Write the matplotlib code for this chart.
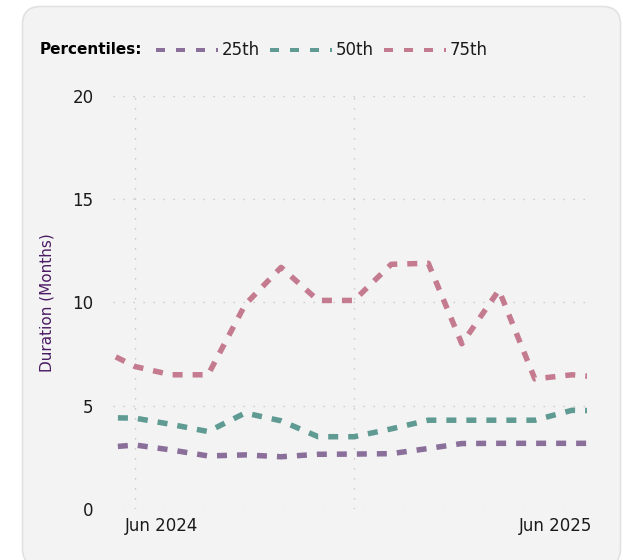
import matplotlib
matplotlib.use("Agg")
import matplotlib.pyplot as plt
import matplotlib.transforms as mtransforms
from matplotlib.patches import FancyBboxPatch
import datetime as dt

# Monthly duration percentiles (months)
months = ["2024-05", "2024-06", "2024-07", "2024-08", "2024-09", "2024-10",
          "2024-11", "2024-12", "2025-01", "2025-02", "2025-03", "2025-04",
          "2025-05", "2025-06", "2025-07"]
p25 = [2.95, 3.10, 2.86, 2.57, 2.62, 2.53, 2.65, 2.66, 2.68, 2.93, 3.17, 3.18, 3.18, 3.18, 3.18]
p50 = [4.43, 4.40, 4.10, 3.75, 4.65, 4.27, 3.50, 3.50, 3.88, 4.30, 4.30, 4.30, 4.30, 4.78, 4.75]
p75 = [7.80, 6.90, 6.50, 6.50, 9.90, 11.70, 10.10, 10.10, 11.85, 11.90, 8.00, 10.60, 6.30, 6.50, 6.35]

series_names = ["25th", "50th", "75th"]
series_colors = ["#8b6f9b", "#5f9b93", "#c57b8f"]
tick_labels = ["Jun 2024", "", "Jun 2025"]
y_ticks = [0, 5, 10, 15, 20]

dates = [dt.datetime.strptime(m, "%Y-%m") for m in months]
x_start = dt.datetime(2024, 5, 13, 14)
x_end = dt.datetime(2025, 6, 13, 14)
tick_dates = [dt.datetime(2024, 6, 1), dt.datetime(2024, 12, 1), dt.datetime(2025, 6, 1)]

W, H = 623, 560
fig = plt.figure(figsize=(W / 100, H / 100), dpi=100, facecolor="white")

# Card background in pixel coordinates
bg = fig.add_axes([0, 0, 1, 1], zorder=-1)
bg.set_xlim(0, W)
bg.set_ylim(H, 0)
bg.axis("off")
bg.add_patch(FancyBboxPatch((22.5, 6.5), 598, 560, boxstyle="round,pad=0,rounding_size=18",
                            fc="#f3f3f3", ec="#e2e2e2", lw=1.2))

ax = fig.add_axes([113 / W, 51 / H, 474 / W, 413 / H])
ax.set_facecolor("none")

lw_px = 5.5
lw_pt = lw_px * 0.72
for vals, col in zip([p25, p50, p75], series_colors):
    ax.plot(dates, vals, color=col, lw=lw_pt, dashes=(10 / lw_px, 10 / lw_px),
            solid_capstyle="butt", dash_capstyle="butt", zorder=3)

ax.set_xlim(x_start, x_end)
ax.set_ylim(0, 20)
ax.set_yticks(y_ticks)
ax.set_xticks(tick_dates)
ax.set_xticklabels(tick_labels)

for s in ax.spines.values():
    s.set_visible(False)

grid_kw = dict(color="#c6c6c6", lw=1.0, dashes=(1, 6.2))
ax.grid(True, axis="both", **grid_kw)
ax.get_xgridlines()[2].set_visible(False)

ax.tick_params(axis="both", length=0, labelsize=12, labelcolor="#1a1a1a")
ax.tick_params(axis="x", pad=6)
ax.tick_params(axis="y", pad=14)

# Shift the date labels horizontally
offsets = [27, 0, -16]
for lab, dx in zip(ax.get_xticklabels(), offsets):
    lab.set_transform(lab.get_transform() + mtransforms.ScaledTranslation(dx / 100, 0, fig.dpi_scale_trans))

ax.set_ylabel("Duration (Months)", color="#4b1b63", fontsize=11, labelpad=13)

# Legend row
ly = 50
bg.text(40, ly, "Percentiles:", fontsize=11, fontweight="bold", color="black",
        va="center", ha="left")
leg_x = [156, 270, 384]
for x0, name, col in zip(leg_x, series_names, series_colors):
    bg.plot([x0, x0 + 62], [ly, ly], color=col, lw=4 * 0.72,
            dashes=(9 / 4, 11 / 4), dash_capstyle="butt")
    bg.text(x0 + 66, ly, name, fontsize=12, color="#1a1a1a", va="center", ha="left")

fig.savefig("out.png", dpi=100, facecolor="white")
